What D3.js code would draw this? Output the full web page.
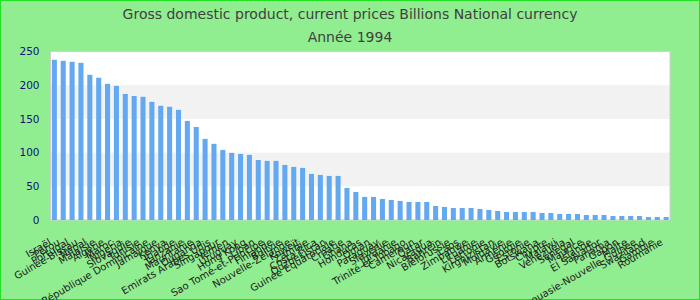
<!DOCTYPE html>
<html>
<head>
<meta charset="utf-8">
<script src="https://cdn.jsdelivr.net/npm/d3@7"></script>
<style>
    body { margin: 0; background: #90ee90; }
    svg { display: block; font-family: "DejaVu Sans", sans-serif; }
</style>
</head>
<body>
<div id="chart"></div>
<script>
// Data used to fill-in the chart:
//------------------------------------
var countries = [
    "Israël", "Pérou", "Portugal", "Guinée-Bissau", "Népal", "Malaisie", "Algérie", "Maroc",
    "Nigeria", "Slovaquie", "Tunisie", "République Dominicaine", "Jamaïque", "Kenya", "Irlande",
    "Tanzanie", "Mauritanie", "Ouganda", "Emirats Arabes Unis", "Singapour", "Yémen", "Uruguay",
    "Hong Kong", "Liban", "Sao Tomé-et-Principe", "Finlande", "Bolivie", "Nouvelle-Zélande",
    "Koweït", "Zambie", "Costa Rica", "Ouzbékistan", "Guinée Equatoriale", "Croatie", "Ghana",
    "Honduras", "Oman", "Paraguay", "Slovénie", "Jordanie", "Trinité-et-Tobago", "Cameroun",
    "Qatar", "Nicaragua", "Bahreïn", "Biélorussie", "Laos", "Zimbabwe", "Lituanie", "Lettonie",
    "Kirghizistan", "Moldavie", "Arménie", "Géorgie", "Estonie", "Botswana", "Chypre", "Malawi",
    "Venezuela", "Sénégal", "Maurice", "Islande", "El Salvador", "Panama", "Gabon", "Malte",
    "Papouasie-Nouvelle-Guinée", "Swaziland", "Gambie", "Roumanie"
];
var gdpValues = [
    237.7, 236.2, 234.7, 233.2, 215.4, 211.0, 202.0, 199.0, 187.0, 184.0,
    182.8, 175.3, 169.4, 168.0, 163.4, 147.0, 138.0, 120.4, 113.0, 104.0,
    99.6, 98.0, 96.6, 89.0, 87.7, 87.7, 81.7, 78.8, 77.3, 68.4,
    66.9, 65.4, 65.4, 47.5, 41.6, 34.2, 34.2, 31.2, 29.7, 28.2,
    26.7, 26.7, 26.7, 20.8, 19.3, 17.8, 17.8, 17.8, 16.3, 14.9,
    13.4, 11.9, 11.9, 11.9, 11.9, 10.4, 10.4, 8.9, 8.9, 8.9,
    7.4, 7.4, 7.4, 5.9, 5.9, 5.9, 5.9, 4.5, 4.5, 4.5
];
var yTicks = [0, 50, 100, 150, 200, 250];
var titleLines = ["Gross domestic product, current prices Billions National currency", "Année 1994"];

//============================================================================================
var width = 700, height = 300;
var plot = { left: 50.5, right: 670, top: 51.5, bottom: 220 };

var svg = d3.select("#chart").append("svg")
    .attr("width", width)
    .attr("height", height);

// green frame
svg.append("rect")
    .attr("x", 0.5).attr("y", 0.5)
    .attr("width", width - 1).attr("height", height - 1)
    .attr("fill", "#90ee90")
    .attr("stroke", "#22e022");

// title (two lines)
svg.selectAll("text.title")
    .data(titleLines)
    .enter().append("text")
    .attr("class", "title")
    .attr("x", width / 2)
    .attr("y", function (d, i) { return 19 + i * 23; })
    .attr("text-anchor", "middle")
    .style("font-size", "14px")
    .style("fill", "#404040")
    .text(function (d) { return d; });

var x = d3.scaleBand()
    .domain(countries)
    .range([plot.left, plot.right])
    .paddingInner(0.43)
    .paddingOuter(0.15);

var y = d3.scaleLinear()
    .domain([0, 250])
    .range([plot.bottom, plot.top]);

// plot background with alternating bands
svg.append("rect")
    .attr("x", plot.left).attr("y", plot.top)
    .attr("width", plot.right - plot.left).attr("height", plot.bottom - plot.top)
    .attr("fill", "#ffffff");

svg.selectAll("rect.band")
    .data([50, 150])
    .enter().append("rect")
    .attr("class", "band")
    .attr("x", plot.left)
    .attr("y", function (d) { return y(d + 50); })
    .attr("width", plot.right - plot.left)
    .attr("height", function (d) { return y(d) - y(d + 50); })
    .attr("fill", "#f2f2f2");

svg.append("rect")
    .attr("x", plot.left).attr("y", plot.top)
    .attr("width", plot.right - plot.left).attr("height", plot.bottom - plot.top)
    .attr("fill", "none")
    .attr("stroke", "#d0d0d0");

// bars
svg.selectAll("rect.bar")
    .data(gdpValues)
    .enter().append("rect")
    .attr("class", "bar")
    .attr("x", function (d, i) { return x(countries[i]); })
    .attr("y", function (d) { return y(d); })
    .attr("width", x.bandwidth())
    .attr("height", function (d) { return y(0) - y(d); })
    .attr("fill", "#63a9f2");

// y axis
var yAxis = svg.append("g")
    .attr("transform", "translate(" + (plot.left - 11) + ",0)")
    .call(d3.axisLeft(y).tickValues(yTicks).tickSize(0).tickPadding(0));
yAxis.select(".domain").remove();
yAxis.selectAll("text")
    .style("font-size", "10.5px")
    .style("font-family", "DejaVu Sans, sans-serif")
    .attr("fill", "#10107a");

// x labels (rotated)
svg.selectAll("text.xlabel")
    .data(countries)
    .enter().append("text")
    .attr("class", "xlabel")
    .attr("transform", function (d) {
        return "translate(" + (x(d) + x.bandwidth() / 2 - 6) + ",238) rotate(-30)";
    })
    .attr("dy", "0.71em")
    .attr("text-anchor", "end")
    .style("font-size", "10px")
    .style("fill", "#222")
    .text(function (d) { return d; });
</script>
</body>
</html>
